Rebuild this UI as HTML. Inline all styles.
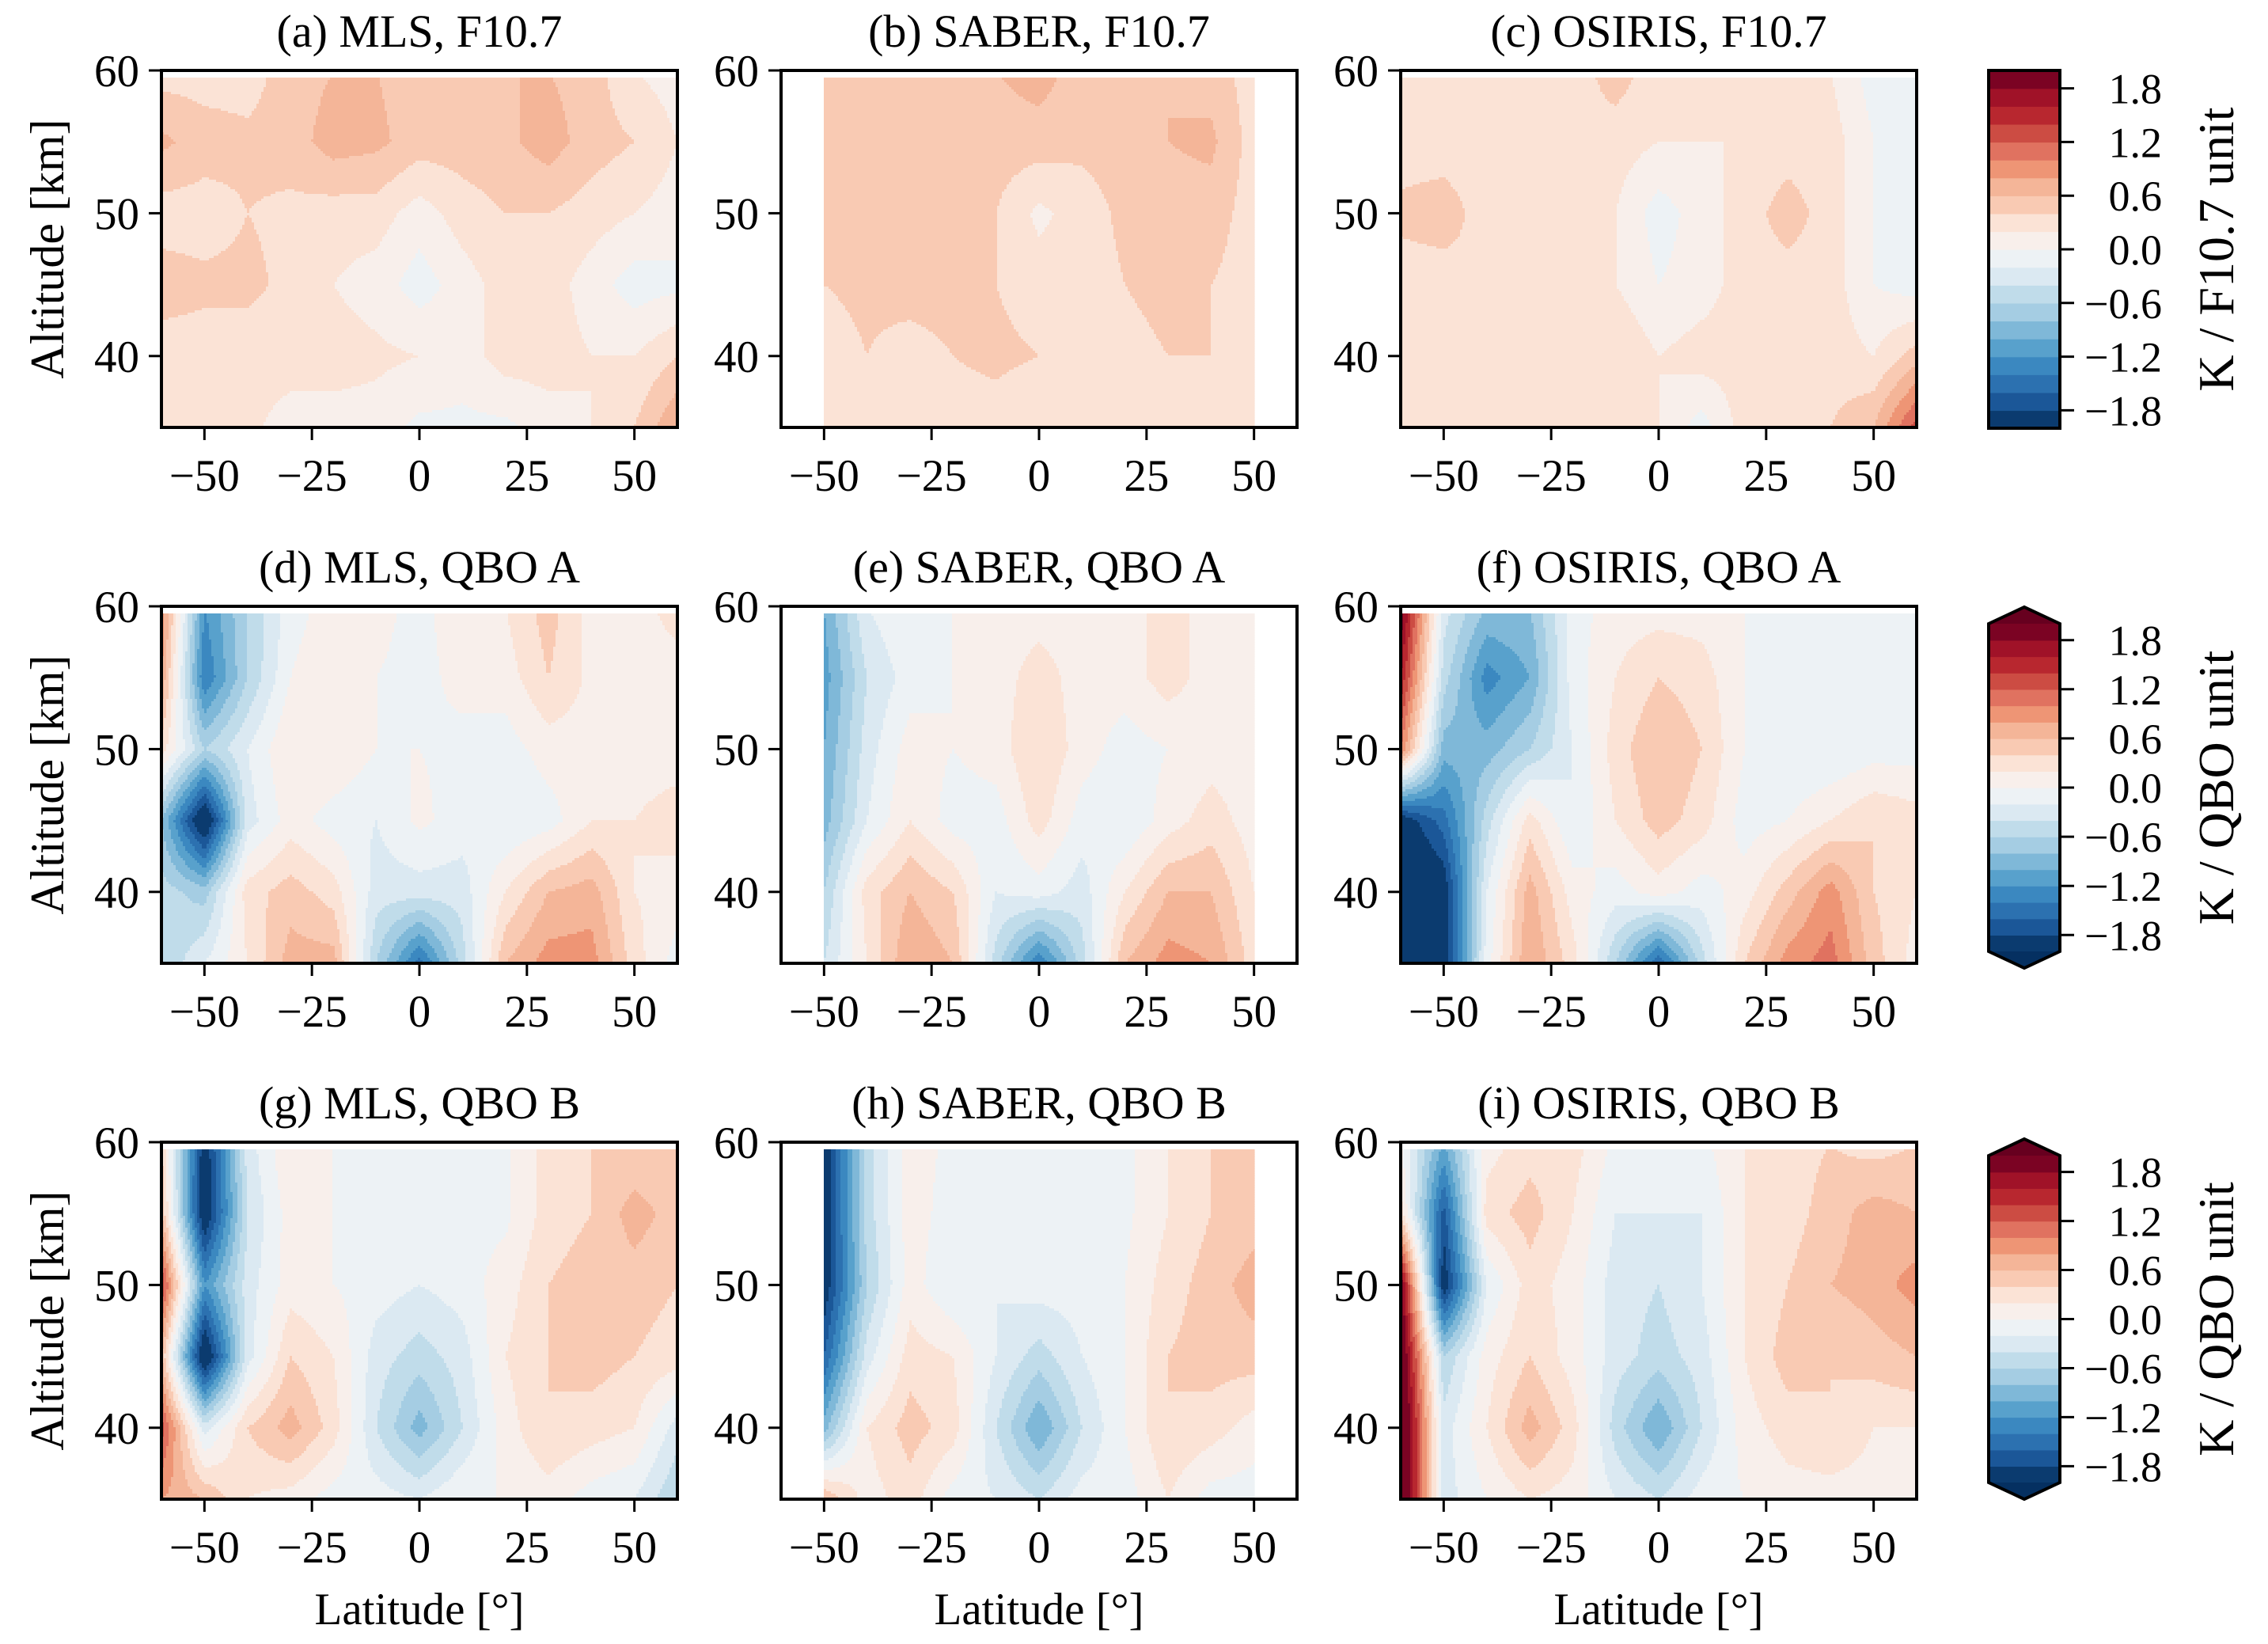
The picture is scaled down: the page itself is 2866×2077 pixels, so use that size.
<!DOCTYPE html>
<html><head><meta charset="utf-8">
<style>
html,body{margin:0;padding:0;background:#fff;}
svg{display:block;font-family:"Liberation Serif","DejaVu Serif",serif;}
</style></head>
<body>
<svg id="fig" xmlns="http://www.w3.org/2000/svg" width="2866" height="2077" viewBox="0 0 2866 2077"></svg>
<script>
// Shared axes data
const lats = [-60,-50,-40,-30,-20,-10,0,10,20,30,40,50,60];
const alts = [60,55,50,45,40,35];
const xTicks = [-50,-25,0,25,50];
const yTicks = [40,50,60];
const cbTicks = [-1.8,-1.2,-0.6,0.0,0.6,1.2,1.8];
const levels = [-2,-1.8,-1.6,-1.4,-1.2,-1,-0.8,-0.6,-0.4,-0.2,0,0.2,0.4,0.6,0.8,1,1.2,1.4,1.6,1.8,2];
const n = null;
// Values (rows = alts 60..35, cols = lats -60..60)
const mlsF107 = [
[0.3,0.3,0.3,0.5,0.6,0.6,0.5,0.5,0.6,0.6,0.5,0.2,0.1],
[0.65,0.5,0.45,0.5,0.7,0.65,0.5,0.5,0.55,0.7,0.5,0.4,0.2],
[0.3,0.3,0.4,0.35,0.3,0.3,0.1,0.3,0.4,0.4,0.3,0.2,0.1],
[0.5,0.45,0.45,0.35,0.2,0.1,-0.1,0.1,0.3,0.3,0.1,-0.1,-0.05],
[0.3,0.3,0.3,0.3,0.3,0.25,0.2,0.1,0.3,0.3,0.2,0.2,0.4],
[0.4,0.4,0.25,0.1,0.1,0.1,-0.05,-0.05,-0.05,0.1,0.2,0.4,0.8]];
const saberF107 = [
[n,0.5,0.5,0.5,0.5,0.6,0.7,0.5,0.5,0.6,0.5,0.3,n],
[n,0.5,0.45,0.5,0.5,0.5,0.5,0.45,0.5,0.6,0.65,0.3,n],
[n,0.45,0.45,0.5,0.5,0.4,0.15,0.3,0.45,0.5,0.5,0.3,n],
[n,0.4,0.45,0.5,0.5,0.4,0.3,0.3,0.4,0.45,0.4,0.3,n],
[n,0.3,0.4,0.3,0.4,0.45,0.4,0.3,0.35,0.4,0.4,0.35,n],
[n,0.25,0.3,0.3,0.3,0.3,0.2,0.3,0.3,0.3,0.3,0.3,n]];
const osirisF107 = [
[0.3,0.3,0.3,0.3,0.3,0.5,0.3,0.3,0.4,0.3,0.2,-0.1,-0.2],
[0.3,0.3,0.3,0.3,0.35,0.3,0.2,0.2,0.2,0.3,0.3,0.0,-0.1],
[0.45,0.5,0.3,0.3,0.3,0.2,-0.1,0.1,0.3,0.5,0.3,0.0,-0.1],
[0.3,0.3,0.4,0.3,0.25,0.2,0.0,0.1,0.3,0.3,0.3,0.0,-0.1],
[0.3,0.3,0.3,0.3,0.3,0.4,0.2,0.3,0.3,0.3,0.3,0.2,0.5],
[0.3,0.3,0.3,0.2,0.2,0.2,0.2,-0.1,0.3,0.3,0.4,0.6,1.3]];
const mlsQboA = [
[1.0,-1.2,-0.6,-0.1,0.1,0.05,-0.05,0.1,0.2,0.5,0.1,0.1,0.3],
[0.8,-1.4,-0.6,0.0,0.2,0.0,-0.05,0.05,0.1,0.4,0.15,0.1,0.1],
[0.3,-0.6,-0.2,0.2,0.2,0.0,0.0,-0.05,-0.1,0.1,0.1,0.1,0.1],
[-0.8,-2.2,-0.3,0.1,-0.1,-0.2,0.05,-0.1,-0.2,-0.1,0.2,0.2,0.3],
[-0.5,-0.7,0.3,0.5,0.3,-0.3,-0.3,-0.3,0.2,0.6,0.7,0.2,0.1],
[-0.6,-0.2,0.2,0.7,0.7,-0.6,-1.5,-0.5,0.6,0.9,0.9,0.3,-0.1]];
const saberQboA = [
[n,-1.0,-0.2,0.0,0.0,0.1,0.1,0.1,0.1,0.3,0.1,0.1,n],
[n,-1.1,-0.4,-0.1,0.0,0.1,0.3,0.1,0.1,0.3,0.1,0.1,n],
[n,-1.0,-0.3,0.1,0.0,0.1,0.4,0.1,-0.1,0.0,0.1,0.1,n],
[n,-0.9,-0.2,0.2,-0.1,-0.1,0.3,-0.1,-0.2,0.1,0.3,0.1,n],
[n,-0.6,0.3,0.6,0.4,-0.2,-0.1,-0.3,0.2,0.6,0.6,0.2,n],
[n,-0.4,0.2,0.8,0.6,-0.5,-1.4,-0.5,0.6,0.9,0.8,0.3,n]];
const osirisQboA = [
[2.0,-0.3,-0.8,-0.8,-0.1,0.1,0.1,0.1,0.0,-0.05,-0.05,-0.05,-0.05],
[1.6,-0.5,-1.3,-1.0,-0.1,0.2,0.4,0.3,0.0,-0.05,-0.1,-0.05,-0.05],
[1.0,-0.9,-0.9,-0.6,-0.2,0.3,0.6,0.4,0.0,-0.2,-0.2,-0.1,-0.1],
[-2.0,-1.5,-0.5,0.3,-0.2,0.2,0.5,0.3,-0.1,0.0,0.2,0.4,0.3],
[-2.3,-2.0,-0.2,0.7,0.1,-0.1,0.1,-0.1,0.1,0.5,0.9,0.4,0.2],
[-2.3,-2.0,-0.1,0.8,0.3,-0.6,-1.6,-0.5,0.4,0.9,1.1,0.5,0.1]];
const mlsQboB = [
[0.4,-2.0,-0.3,0.2,0.0,-0.05,-0.05,-0.05,-0.05,0.3,0.4,0.4,0.4],
[0.6,-2.1,-0.4,0.1,0.0,-0.05,-0.05,-0.05,-0.05,0.3,0.4,0.7,0.5],
[1.4,-1.2,-0.3,0.1,0.0,-0.1,-0.2,-0.1,0.1,0.4,0.5,0.5,0.4],
[0.6,-2.2,-0.3,0.4,0.2,-0.3,-0.5,-0.3,0.2,0.4,0.5,0.4,0.3],
[1.3,-0.3,0.4,0.7,0.3,-0.4,-0.9,-0.4,0.1,0.4,0.3,0.2,-0.3],
[0.8,0.6,0.2,0.1,-0.1,-0.1,-0.2,0.0,0.0,0.1,-0.1,-0.2,-0.6]];
const saberQboB = [
[n,-2.0,-0.5,0.1,-0.05,-0.05,-0.05,-0.05,-0.05,0.2,0.4,0.5,n],
[n,-2.0,-0.5,0.1,-0.1,-0.1,-0.1,-0.2,-0.05,0.2,0.4,0.5,n],
[n,-2.0,-0.6,0.1,-0.2,-0.2,-0.1,-0.1,0.0,0.3,0.5,0.7,n],
[n,-1.6,-0.3,0.3,0.2,-0.2,-0.5,-0.2,0.0,0.4,0.5,0.5,n],
[n,-0.9,0.2,0.5,0.3,-0.4,-1.0,-0.4,0.0,0.4,0.3,0.1,n],
[n,0.6,0.1,0.3,-0.1,-0.2,-0.4,-0.1,-0.1,0.2,-0.1,-0.1,n]];
const osirisQboB = [
[0.0,-1.0,0.1,0.3,0.3,-0.05,-0.05,-0.05,0.2,0.3,0.4,0.3,0.4],
[0.3,-1.7,0.3,0.5,0.2,-0.2,-0.2,-0.2,0.2,0.3,0.5,0.7,0.6],
[2.0,-2.0,-0.2,0.3,0.1,-0.3,-0.4,-0.2,0.2,0.4,0.6,0.7,0.9],
[2.2,-0.6,0.1,0.4,0.1,-0.3,-0.5,-0.3,0.2,0.5,0.4,0.5,0.6],
[2.4,-0.3,0.2,0.7,0.3,-0.5,-1.0,-0.4,0.1,0.3,0.4,0.2,0.2],
[2.4,-0.3,0.0,0.2,0.1,-0.2,-0.4,-0.1,0.0,0.1,0.1,0.1,0.1]];
const titles = ["(a) MLS, F10.7","(b) SABER, F10.7","(c) OSIRIS, F10.7","(d) MLS, QBO A","(e) SABER, QBO A","(f) OSIRIS, QBO A","(g) MLS, QBO B","(h) SABER, QBO B","(i) OSIRIS, QBO B"];
const cbLabels = ["K / F10.7 unit","K / QBO unit","K / QBO unit"];

const colors = ["#0b3b6f","#1b5798","#2c71b0","#3b88c0","#58a1cc","#7fb8d8","#a5cde3","#c0dcea","#dbe9f2","#edf2f5","#f8efeb","#fbe3d6","#f9cab3","#f4b598","#ee9575","#e07260","#cc4c43","#b8272f","#a01228","#7b0323"];
const NS="http://www.w3.org/2000/svg";
const svg=document.getElementById('fig');
function mk(tag,attrs,parent){const e=document.createElementNS(NS,tag);for(const k in attrs)e.setAttribute(k,attrs[k]);(parent||svg).appendChild(e);return e;}
function txt(s,attrs,parent){const e=mk('text',attrs,parent);e.textContent=s;return e;}
const colX=[204,987,1770], W=652;
const rowY=[89,766,1443], H=451;
const datasets=[mlsF107,saberF107,osirisF107,mlsQboA,saberQboA,osirisQboA,mlsQboB,saberQboB,osirisQboB];
function colorIdx(v){let i=Math.floor((v-levels[0])/(levels[1]-levels[0]));return Math.max(0,Math.min(colors.length-1,i));}
function interp(d,lat,alt){
  let fi=(lat-lats[0])/(lats[1]-lats[0]); let fj=(alts[0]-alt)/(alts[0]-alts[1]);
  let i0=Math.min(lats.length-2,Math.max(0,Math.floor(fi))), j0=Math.min(alts.length-2,Math.max(0,Math.floor(fj)));
  let tx=Math.max(0,Math.min(1,fi-i0)), ty=Math.max(0,Math.min(1,fj-j0));
  let a=d[j0][i0],b=d[j0][i0+1],c=d[j0+1][i0],e=d[j0+1][i0+1];
  if(a===null)a=b; if(b===null)b=a; if(c===null)c=e; if(e===null)e=c;
  if(a===null||c===null) return null;
  return a*(1-tx)*(1-ty)+b*tx*(1-ty)+c*(1-tx)*ty+e*tx*ty;
}
for(let p=0;p<9;p++){
  const r=Math.floor(p/3), c=p%3, X0=colX[c], Y0=rowY[r], d=datasets[p];
  const isSaber = c===1;
  const g=mk('g',{});
  
  
  const xs=lat=>X0+(lat+60)/120*W;
  const ys=alt=>Y0+(60-alt)/25*H;
  const latMin=isSaber?-50:-60, latMax=isSaber?50:60;
  const topAlt = 59.5;
  const step=3;
  const fieldG=mk('g',{},g);
  
  
  const px0=Math.round(xs(latMin)), px1=Math.round(xs(latMax));
  const py0=Math.round(ys(topAlt)), py1=Y0+H;
  for(let y=py0;y<py1;y+=step){
    const alt=60-(y+step/2-Y0)/H*25;
    const hgt=Math.min(step,py1-y)+0.6;
    let runStart=px0, runCol=-1;
    const flush=(xe)=>{
      if(runCol>=0){
        const rc=mk('rect',{x:runStart,y:y,width:xe-runStart+0.6,height:hgt,fill:colors[runCol]},fieldG);
        
        
      }
    };
    for(let x=px0;x<px1;x+=step){
      const lat=-60+(Math.min(x+step/2,px1)-X0)/W*120;
      const v=interp(d,lat,alt);
      const ci=v===null?-2:colorIdx(v);
      if(ci!==runCol){flush(x);runStart=x;runCol=ci;}
    }
    flush(px1);
  }
  const fr=mk('rect',{x:X0,y:Y0,width:W,height:H,fill:'none',stroke:'#000','stroke-width':4},g);
  
  
  xTicks.forEach(t=>{
    const x=xs(t);
    mk('line',{x1:x,y1:Y0+H,x2:x,y2:Y0+H+16,stroke:'#000','stroke-width':3},g);
    const tl=txt((t<0?'\u2212':'')+Math.abs(t),{x:x,y:Y0+H+80,'font-size':57,'text-anchor':'middle'},g);
    
    
  });
  yTicks.forEach(t=>{
    const y=ys(t);
    mk('line',{x1:X0-16,y1:y,x2:X0,y2:y,stroke:'#000','stroke-width':3},g);
    const tl=txt(String(t),{x:X0-28,y:y+20,'font-size':57,'text-anchor':'end'},g);
    
    
  });
  const tt=txt(titles[p],{x:X0+W/2,y:Y0-30,'font-size':58,'text-anchor':'middle'},g);
  
  
  if(c===0){
    const yl=txt('Altitude [km]',{x:0,y:0,'font-size':60,'text-anchor':'middle',transform:`translate(80,${Y0+H/2}) rotate(-90)`},g);
    
    
  }
  if(r===2){
    const xl=txt('Latitude [\u00b0]',{x:X0+W/2,y:2052,'font-size':57,'text-anchor':'middle'},g);
    
    
  }
}
const cbs=[{top:89,bot:541,ext:false},{top:788,bot:1202,ext:true},{top:1460,bot:1873,ext:true}];
const CX0=2513, CX1=2603;
cbs.forEach((cb,k)=>{
  const g=mk('g',{});
  
  
  const hh=(cb.bot-cb.top)/colors.length;
  const vy=v=>cb.bot-(v-levels[0])/(levels[levels.length-1]-levels[0])*(cb.bot-cb.top);
  colors.forEach((col,i)=>{
    const rc=mk('rect',{x:CX0,y:vy(levels[i+1]),width:CX1-CX0,height:hh+0.7,fill:col},g);
    
    
  });
  const mid=(CX0+CX1)/2;
  if(cb.ext){
    mk('polygon',{points:`${CX0},${cb.top} ${mid},${cb.top-21} ${CX1},${cb.top}`,fill:'#67001f'},g);
    mk('polygon',{points:`${CX0},${cb.bot} ${mid},${cb.bot+21} ${CX1},${cb.bot}`,fill:'#053061'},g);
    mk('polygon',{points:`${CX0},${cb.top} ${mid},${cb.top-21} ${CX1},${cb.top} ${CX1},${cb.bot} ${mid},${cb.bot+21} ${CX0},${cb.bot}`,fill:'none',stroke:'#000','stroke-width':4},g);
  } else {
    mk('rect',{x:CX0,y:cb.top,width:CX1-CX0,height:cb.bot-cb.top,fill:'none',stroke:'#000','stroke-width':4},g);
  }
  cbTicks.forEach(t=>{
    const y=vy(t);
    mk('line',{x1:CX1,y1:y,x2:CX1+18,y2:y,stroke:'#000','stroke-width':3},g);
    const s=(t<0?'\u2212':'')+Math.abs(t).toFixed(1);
    const tl=txt(s,{x:2732,y:y+19,'font-size':54,'text-anchor':'end'},g);
    
    
  });
  const lab=txt(cbLabels[k],{x:0,y:0,'font-size':64,'text-anchor':'middle',transform:`translate(2822,${(cb.top+cb.bot)/2}) rotate(-90)`},g);
  
  
});
</script>
</body></html>
